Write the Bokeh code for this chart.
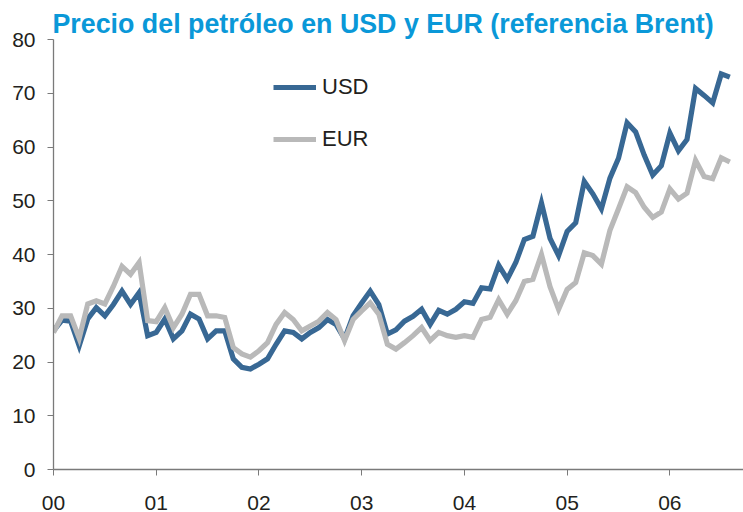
from bokeh.plotting import figure
from bokeh.models import FixedTicker, Legend, LegendItem
from bokeh.embed import file_html
from bokeh.resources import INLINE

title_text = "Precio del petróleo en USD y EUR (referencia Brent)"
year_labels = ["00", "01", "02", "03", "04", "05", "06"]
series_names = ["USD", "EUR"]

# Monthly Brent price, Jan 2000 - Aug 2006
usd = [
    25.8, 27.8, 27.6, 23.0, 28.0, 30.1, 28.6, 30.7, 33.2, 30.7, 32.9, 24.9,
    25.5, 28.0, 24.3, 25.8, 28.9, 28.0, 24.3, 25.8, 25.8, 20.6, 19.0, 18.7,
    19.6, 20.6, 23.3, 25.8, 25.5, 24.3, 25.5, 26.4, 27.9, 27.0, 24.3, 28.6,
    31.0, 33.2, 30.7, 25.2, 26.0, 27.6, 28.5, 29.8, 27.0, 29.6, 28.9, 29.8,
    31.2, 30.9, 33.8, 33.6, 38.0, 35.4, 38.5, 42.8, 43.4, 49.6, 43.0, 39.8,
    44.3, 45.9, 53.6, 51.3, 48.5, 54.2, 57.9, 64.5, 62.8, 58.5, 54.8, 56.5,
    62.6, 59.3, 61.4, 70.9, 69.6, 68.2, 73.6, 73.0,
]
eur = [
    25.5, 28.6, 28.6, 24.4, 30.8, 31.4, 30.8, 34.1, 37.8, 36.3, 38.5, 27.7,
    27.5, 30.1, 26.4, 28.9, 32.6, 32.6, 28.6, 28.6, 28.3, 22.7, 21.5, 20.9,
    22.1, 23.6, 27.0, 29.2, 27.9, 25.8, 26.7, 27.6, 29.2, 27.9, 24.0, 27.9,
    29.5, 31.0, 28.9, 23.3, 22.4, 23.6, 24.9, 26.4, 24.0, 25.5, 24.9, 24.6,
    24.9, 24.6, 27.9, 28.3, 31.6, 28.9, 31.4, 35.0, 35.4, 40.0, 34.0, 29.8,
    33.5, 34.8, 40.3, 39.8, 38.2, 44.5, 48.5, 52.6, 51.5, 48.8, 46.9, 47.9,
    52.2, 50.3, 51.4, 57.5, 54.5, 54.1, 58.0, 57.2,
]
y_ticks = [0, 10, 20, 30, 40, 50, 60, 70, 80]

months = list(range(len(usd)))
tick_months = [12 * i for i in range(len(year_labels))]

BLUE = "#386894"
GREY = "#b9b9b9"
AXIS = "#7a7a7a"
TXT = "#231f20"

p = figure(width=743, height=512, x_range=(0, 80.6), y_range=(0, 80),
           output_backend="svg", toolbar_location=None,
           min_border_left=53, min_border_right=0,
           min_border_top=39, min_border_bottom=42)
p.outline_line_color = None
p.xgrid.visible = False
p.ygrid.visible = False
p.background_fill_color = "white"

p.title.text = title_text
p.title.align = "left"
p.title.offset = -1
p.title.standoff = 1
p.title.text_font = "Liberation Sans"
p.title.text_font_style = "bold"
p.title.text_font_size = "26.8px"
p.title.text_color = "#0a98d8"

r_usd = p.line(months, usd, line_color=BLUE, line_width=5.2, line_join="miter")
r_eur = p.line(months, eur, line_color=GREY, line_width=5.2, line_join="miter")

# axes
xa = p.xaxis[0]
xa.ticker = FixedTicker(ticks=tick_months)
xa.major_label_overrides = {m: lab for m, lab in zip(tick_months, year_labels)}
xa.minor_tick_line_color = None
xa.major_tick_in = 0
xa.major_tick_out = 6
xa.axis_line_color = AXIS
xa.major_tick_line_color = AXIS
xa.axis_line_width = 1.3
xa.major_label_text_font = "Liberation Sans"
xa.major_label_text_font_size = "21px"
xa.major_label_text_color = TXT
xa.major_label_text_line_height = 0.6
xa.major_label_standoff = 20

ya = p.yaxis[0]
ya.ticker = FixedTicker(ticks=y_ticks)
ya.minor_tick_line_color = None
ya.major_tick_in = 0
ya.major_tick_out = 6
ya.axis_line_color = AXIS
ya.major_tick_line_color = AXIS
ya.axis_line_width = 1.3
ya.major_label_text_font = "Liberation Sans"
ya.major_label_text_font_size = "21px"
ya.major_label_text_color = TXT
ya.major_label_standoff = 12

legend = Legend(items=[LegendItem(label=series_names[0], renderers=[r_usd]),
                       LegendItem(label=series_names[1], renderers=[r_eur])],
                location=(220, 317), orientation="vertical",
                glyph_width=43, glyph_height=26, label_height=26,
                spacing=26, label_standoff=6, padding=0, margin=0,
                border_line_color=None, background_fill_alpha=0,
                label_text_font="Liberation Sans", label_text_font_size="22px",
                label_text_color=TXT)
p.add_layout(legend)

open("out.html", "w").write(file_html(p, INLINE))
